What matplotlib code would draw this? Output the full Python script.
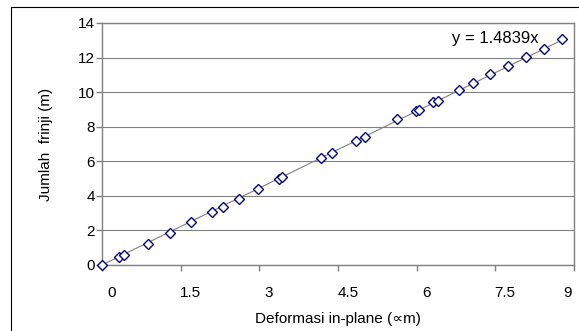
import matplotlib
matplotlib.use('Agg')
import matplotlib.pyplot as plt
from matplotlib.patches import Rectangle
from matplotlib.transforms import ScaledTranslation
import numpy as np

plt.rcParams['font.family'] = ['Liberation Sans', 'DejaVu Sans']

# data
deformasi = [0, 0.32, 0.41, 0.88, 1.29, 1.69, 2.09, 2.30, 2.62, 2.98, 3.37, 3.43,
             4.17, 4.39, 4.85, 5.01, 5.63, 5.99, 6.05, 6.32, 6.40, 6.80, 7.07,
             7.40, 7.74, 8.08, 8.42, 8.77]
frinji = [0, 0.48, 0.58, 1.21, 1.87, 2.50, 3.08, 3.37, 3.82, 4.38, 4.97, 5.11,
          6.17, 6.46, 7.17, 7.38, 8.44, 8.91, 8.96, 9.41, 9.50, 10.12, 10.51,
          11.05, 11.51, 12.05, 12.49, 13.05]
slope = 1.4839
xticks = [0, 1.5, 3, 4.5, 6, 7.5, 9]
xticklabels = ['0', '1.5', '3', '4.5', '6', '7.5', '9']
yticks = [0, 2, 4, 6, 8, 10, 12, 14]

fig = plt.figure(figsize=(5.79, 3.31), dpi=100)
ax = fig.add_axes([102/579, 1 - 265/331, (574 - 102)/579, (265 - 23)/331])

# outer chart frame (cut off at right and bottom)
fig.patches.append(Rectangle((11/579, -0.1), 1.2, 1 - 7/331 + 0.1,
                             transform=fig.transFigure, fill=False,
                             edgecolor='black', linewidth=0.8))

# trendline
xt = np.array([0, max(deformasi)])
ax.plot(xt, slope * xt, color='#808080', linewidth=0.8, zorder=2)
ax.plot(deformasi, frinji, linestyle='none', marker='D', markersize=5.5,
        markerfacecolor='white', markeredgecolor='#000080', markeredgewidth=1,
        zorder=3, clip_on=False)

ax.set_xlim(0, 9)
ax.set_ylim(0, 14)
ax.set_xticks(xticks)
ax.set_xticklabels(xticklabels)
ax.set_yticks(yticks)
ax.yaxis.grid(True, color='#808080', linewidth=0.8)
ax.set_axisbelow(True)
for s in ax.spines.values():
    s.set_color('#808080')
    s.set_linewidth(1)
ax.tick_params(axis='both', colors='#808080', labelcolor='black', labelsize=11,
               length=4, width=1)
ax.tick_params(axis='x', pad=11)
ax.tick_params(axis='y', pad=1)

# Excel-like shift of x labels to the right of the ticks
labs = ax.get_xticklabels()
for i, lab in enumerate(labs):
    dx = -5/72 if i == len(labs) - 1 else 7/72
    lab.set_transform(lab.get_transform() + ScaledTranslation(dx, 0, fig.dpi_scale_trans))

ax.set_xlabel('Deformasi in-plane (\u221dm)', fontsize=11, labelpad=9)
ax.set_ylabel('Jumlah  frinji (m)', fontsize=11, labelpad=18)

ax.text(8.33, 13.13, 'y = 1.4839x', fontsize=12, ha='right', va='center')

fig.savefig('out.png', dpi=100)
